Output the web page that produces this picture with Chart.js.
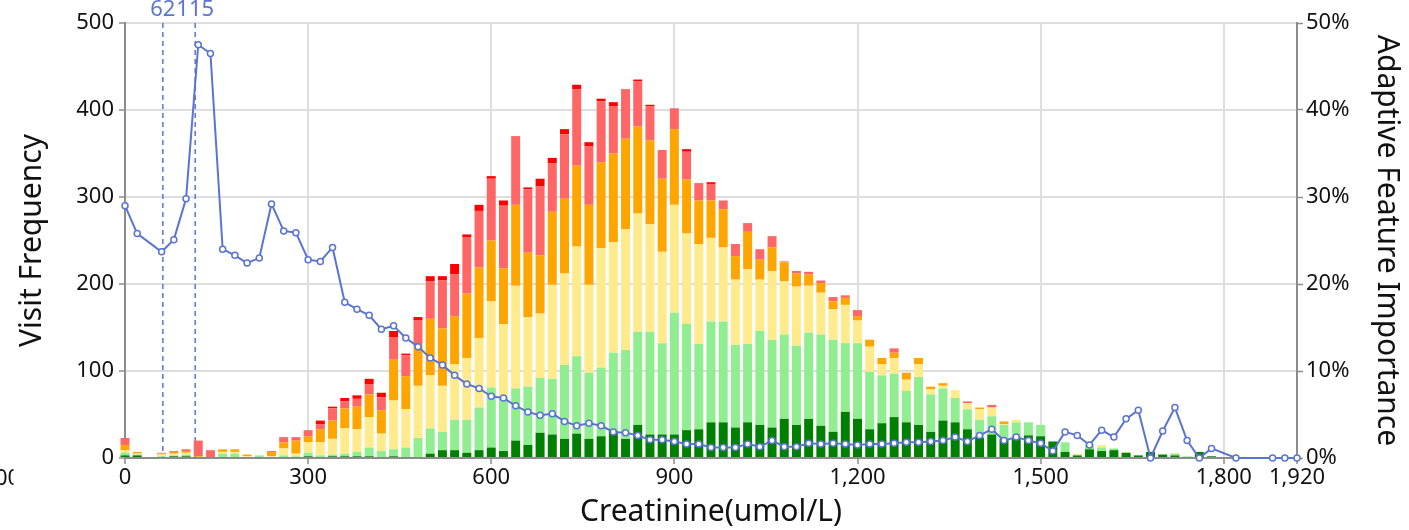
<!DOCTYPE html>
<html>
<head>
<meta charset="utf-8">
<title>Creatinine - visit frequency and feature importance</title>
<script src="https://cdn.jsdelivr.net/npm/chart.js@4.4.1/dist/chart.umd.min.js"></script>
<style>
  html, body { margin: 0; padding: 0; background: #fff; }
  #wrap { width: 1409px; height: 530px; position: relative; }
</style>
</head>
<body>
<div id="wrap"><canvas id="creatChart"></canvas></div>
<script>
// bin positions (umol/L), one bar per bin
const binStart = [0,20,40,60,80,100,120,140,160,180,200,220,240,260,280,300,320,340,360,380,
  400,420,440,460,480,500,520,540,560,580,600,620,640,660,680,700,720,740,760,780,
  800,820,840,860,880,900,920,940,960,980,1000,1020,1040,1060,1080,1100,1120,1140,1160,1180,
  1200,1220,1240,1260,1280,1300,1320,1340,1360,1380,1400,1420,1440,1460,1480,1500,1520,1540,1560,1580,
  1600,1620,1640,1660,1680,1700,1720,1740,1760,1780];

// stacked visit counts, bottom to top
const darkGreen = [3,3,0,1,2,2,0,0,1,1, 0,0,0,1,1,2,1,2,2,2, 2,1,2,1,1,5,9,9,6,9,
  12,8,20,15,29,27,22,28,22,25, 31,22,38,27,27,27,32,33,41,41, 35,41,38,35,45,38,45,37,30,53,
  45,33,40,47,41,38,30,43,41,33, 23,27,22,22,26,25,19,7,3,10, 8,9,6,3,7,4,3,1,7,2];
const lightGreen = [3,1,0,1,1,2,0,0,4,4, 0,3,0,2,1,4,2,2,3,5, 10,7,8,11,22,29,21,35,38,49,
  69,61,60,67,63,64,85,89,76,79, 90,102,107,118,105,140,122,98,116,116, 95,90,108,101,97,91,99,105,106,79,
  87,66,55,50,36,55,43,37,28,23, 21,21,16,19,15,13,0,11,0,6, 4,2,0,0,0,0,2,1,0,0];
const yellow = [3,1,0,2,2,2,0,0,2,2, 2,0,2,8,3,12,15,18,29,26, 35,20,56,44,60,61,53,64,71,80,
  99,85,118,80,74,108,105,126,101,137, 127,139,136,124,105,124,104,115,96,85, 75,86,59,79,61,68,54,48,35,44,
  26,29,13,18,13,15,6,3,9,7, 12,10,1,3,0,0,0,0,2,0, 3,0,1,0,0,0,1,0,0,0];
const orange = [6,2,0,1,2,2,2,0,3,3, 2,0,5,7,15,7,15,21,23,26, 26,27,47,38,48,65,66,55,74,81,
  70,64,93,74,67,84,86,93,92,99, 102,104,100,96,84,87,62,50,43,44, 27,43,23,27,22,15,13,11,9,8,
  5,8,7,6,8,7,3,3,0,0, 2,0,3,0,0,0,0,0,0,0, 0,0,0,0,0,0,0,0,0,0];
const lightRed = [8,0,0,1,1,2,18,9,0,0, 0,0,1,6,4,7,6,14,8,9, 12,15,26,24,27,43,55,48,65,65,
  71,72,79,73,79,56,74,88,67,70, 54,57,52,39,33,24,32,20,19,10, 14,10,12,13,1,3,3,3,5,3,
  7,0,0,5,0,0,0,0,0,2, 0,3,0,0,0,0,0,0,0,0, 0,0,0,0,0,0,0,0,0,0];
const red = [0,0,0,0,0,0,0,0,0,0, 0,0,0,0,0,0,4,2,4,4, 6,5,7,2,4,6,5,12,3,7,
  3,6,0,2,9,6,6,5,5,3, 5,0,2,2,0,0,3,0,2,0, 0,0,0,0,0,0,0,0,0,0,
  0,0,0,0,0,0,0,0,0,0, 0,0,0,0,0,0,0,0,0,0, 0,0,0,0,0,0,0,0,0,0];

// adaptive feature importance (%), right axis
const importanceX = [0,20,60,80,100,120,140,160,180,200,220,240,260,280,300,320,340,360,380,400,
  420,440,460,480,500,520,540,560,580,600,620,640,660,680,700,720,740,760,780,800,
  820,840,860,880,900,920,940,960,980,1000,1020,1040,1060,1080,1100,1120,1140,1160,1180,1200,
  1220,1240,1260,1280,1300,1320,1340,1360,1380,1400,1420,1440,1460,1480,1500,1520,1540,1560,1580,1600,
  1620,1640,1660,1680,1700,1720,1740,1760,1780,1820,1880,1900,1920];
const importance = [29.0,25.8,23.7,25.1,29.8,47.5,46.5,24.0,23.3,22.4,23.0,29.2,26.1,25.9,22.8,22.6,24.2,17.9,17.1,16.4,
  14.8,15.2,13.8,12.8,11.5,10.7,9.5,8.5,8.0,7.1,6.9,6.0,5.3,4.9,5.1,4.2,3.7,4.0,3.7,3.0,
  2.9,2.6,2.1,2.1,1.9,1.6,1.6,1.2,1.2,1.2,1.6,1.3,2.0,1.3,1.3,1.7,1.6,1.7,1.6,1.5,
  1.6,1.6,1.7,1.8,1.8,1.9,2.0,2.4,1.9,2.6,3.3,2.0,2.4,2.0,1.7,0.8,3.0,2.6,1.5,3.2,
  2.4,4.5,5.5,0.0,3.1,5.8,2.0,0.0,1.1,0.0,0.0,0.0,0.0];

const xTicks = [0, 300, 600, 900, 1200, 1500, 1800, 1920];
const cutoffs = [62, 115];

const FONT = "'Noto Sans', 'Open Sans', sans-serif";
const lineBlue = '#5b74d2';
const barColors = ['#008000', '#90ee90', '#ffea8c', '#ffa500', '#ff6666', '#ff0000'];
const gridGrey = '#dedede';
const axisGrey = '#8c8c8c';
const textColor = '#111111';

// dashed cut-off lines with their labels on top
const cutoffPlugin = {
    id: 'cutoffs',
    beforeDatasetsDraw(chart) {
        const { ctx, chartArea, scales } = chart;
        ctx.save();
        ctx.strokeStyle = lineBlue;
        ctx.lineWidth = 1.5;
        ctx.setLineDash([5, 4]);
        ctx.fillStyle = lineBlue;
        ctx.font = '22px ' + FONT;
        ctx.textAlign = 'center';
        ctx.textBaseline = 'alphabetic';
        cutoffs.forEach(c => {
            const px = scales.x.getPixelForValue(c);
            ctx.beginPath();
            ctx.moveTo(px, chartArea.top);
            ctx.lineTo(px, chartArea.bottom);
            ctx.stroke();
            ctx.fillText(String(c), px, 16);
        });
        ctx.restore();
    },
    afterDraw(chart) {
        // clipped leftover label at the left edge
        const ctx = chart.ctx;
        ctx.save();
        ctx.beginPath();
        ctx.rect(0, 462, 13.5, 40);
        ctx.clip();
        ctx.fillStyle = textColor;
        ctx.font = '22px ' + FONT;
        ctx.textAlign = 'left';
        ctx.textBaseline = 'middle';
        ctx.fillText('00', -5, 479);
        ctx.restore();
    }
};

const stackSeries = [darkGreen, lightGreen, yellow, orange, lightRed, red];

const barSets = stackSeries.map((vals, k) => ({
    type: 'bar',
    data: vals.map((v, i) => ({ x: binStart[i], y: v })),
    backgroundColor: barColors[k],
    borderWidth: 0,
    yAxisID: 'y',
    order: 1,
    clip: false,
    barPercentage: 0.92,
    categoryPercentage: 0.8
}));

const lineSet = {
    type: 'line',
    data: importanceX.map((x, i) => ({ x: x, y: importance[i] })),
    yAxisID: 'y1',
    borderColor: lineBlue,
    borderWidth: 2,
    pointRadius: 3,
    pointBackgroundColor: '#ffffff',
    pointBorderColor: lineBlue,
    pointBorderWidth: 1.5,
    tension: 0,
    order: 0,
    clip: false
};

const tickFont = { family: FONT, size: 22 };
const titleFont = { family: FONT, size: 30 };

new Chart(document.getElementById('creatChart'), {
    type: 'bar',
    data: { datasets: [...barSets, lineSet] },
    options: {
        responsive: true,
        maintainAspectRatio: false,
        animation: false,
        layout: { padding: { top: 23, left: 0, right: 0, bottom: 0 } },
        plugins: {
            legend: { display: false },
            tooltip: { enabled: false }
        },
        scales: {
            x: {
                type: 'linear',
                min: 0,
                max: 1920,
                stacked: true,
                offset: false,
                afterBuildTicks: s => { s.ticks = xTicks.map(v => ({ value: v })); },
                afterFit: s => { s.height = 72; },
                grid: { offset: false, color: gridGrey, lineWidth: 2, tickColor: axisGrey, tickLength: 6, tickWidth: 1.5 },
                border: { color: axisGrey, width: 2 },
                ticks: {
                    font: tickFont, color: textColor, padding: 1,
                    maxRotation: 0, autoSkip: false,
                    callback: v => Number(v).toLocaleString('en-US')
                },
                title: { display: true, text: 'Creatinine(umol/L)', font: titleFont, color: textColor, padding: { top: 0, bottom: 0 } }
            },
            y: {
                position: 'left',
                stacked: true,
                min: 0,
                max: 500,
                afterFit: s => { s.width = 125; },
                grid: { color: gridGrey, lineWidth: 2, tickColor: axisGrey, tickLength: 6, tickWidth: 1.5 },
                border: { color: axisGrey, width: 2 },
                ticks: { stepSize: 100, font: tickFont, color: textColor, padding: 5 },
                title: { display: true, text: 'Visit Frequency', font: titleFont, color: textColor, padding: { top: 14, bottom: 0 } }
            },
            y1: {
                position: 'right',
                min: 0,
                max: 50,
                afterFit: s => { s.width = 112; },
                grid: { drawOnChartArea: false, tickColor: axisGrey, tickLength: 6, tickWidth: 1.5 },
                border: { color: axisGrey, width: 2 },
                ticks: { stepSize: 10, font: tickFont, color: textColor, padding: 3, callback: v => v + '%' },
                title: { display: true, text: 'Adaptive Feature Importance', font: titleFont, color: textColor, padding: { top: 4, bottom: 0 } }
            }
        }
    },
    plugins: [cutoffPlugin]
});
</script>
</body>
</html>
